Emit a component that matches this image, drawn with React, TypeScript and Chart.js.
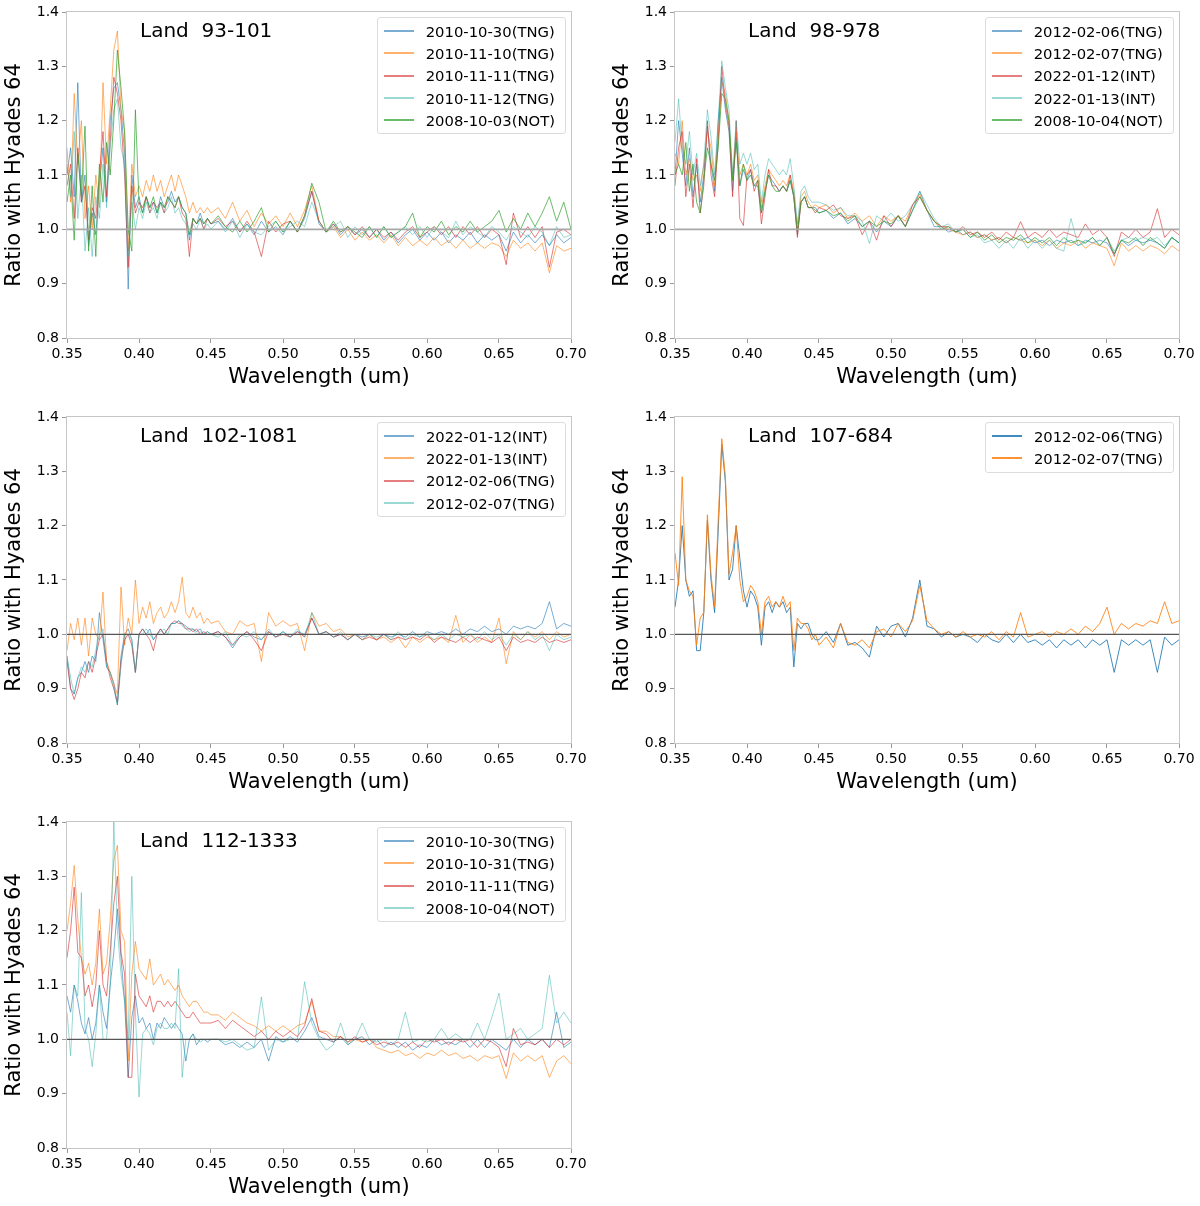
import { useEffect, useRef } from "react"
import { Chart, registerables } from "chart.js"

Chart.register(...registerables)

const FONT = "'DejaVu Sans', Verdana, sans-serif"

// Axis ranges and the reference ratio
const X_MIN = 0.35
const X_MAX = 0.7
const X_STEP = 0.05
const Y_MIN = 0.8
const Y_MAX = 1.4
const Y_STEP = 0.1
const REF_LEVEL = 1.0

// Shared wavelength grid (um), finer in the blue part
const WAVELENGTH = [
  0.35, 0.3525, 0.355, 0.3575, 0.36, 0.3625, 0.365, 0.3675, 0.37, 0.3725,
  0.375, 0.3775, 0.38, 0.3825, 0.385, 0.3875, 0.39, 0.3925, 0.395, 0.3975,
  0.4, 0.4025, 0.405, 0.4075, 0.41, 0.4125, 0.415, 0.4175, 0.42, 0.4225,
  0.425, 0.4275, 0.43, 0.4325, 0.435, 0.4375, 0.44, 0.4425, 0.445, 0.4475, 0.45,
  0.455, 0.46, 0.465, 0.47, 0.475, 0.48, 0.485, 0.49, 0.495, 0.5,
  0.505, 0.51, 0.515, 0.52, 0.525, 0.53, 0.535, 0.54, 0.545, 0.55,
  0.555, 0.56, 0.565, 0.57, 0.575, 0.58, 0.585, 0.59, 0.595, 0.6,
  0.605, 0.61, 0.615, 0.62, 0.625, 0.63, 0.635, 0.64, 0.645, 0.65,
  0.655, 0.66, 0.665, 0.67, 0.675, 0.68, 0.685, 0.69, 0.695, 0.7,
]

// Land 93-101
const P1_BLUE = [
  1.10, 1.15, 1.06, 1.27, 1.05, 1.10, 0.97, 1.03, 0.99, 1.08,
  1.15, 1.05, 1.20, 1.26, 1.27, 1.22, 1.14, 0.89, 1.10, 1.04,
  1.06, 1.03, 1.06, 1.04, 1.05, 1.03, 1.06, 1.04, 1.05, 1.07,
  1.05, 1.06, 1.04, 1.03, 0.98, 1.02, 1.01, 1.03, 1.01, 1.02, 1.01,
  1.015, 1.00, 1.02, 0.995, 1.01, 0.99, 1.015, 0.995, 1.005, 0.99,
  1.015, 0.995, 1.02, 1.07, 1.01, 0.995, 1.01, 0.99, 1.005, 0.99,
  1.00, 0.985, 1.00, 0.98, 0.995, 0.975, 0.99, 1.00, 0.98, 0.995,
  0.98, 0.995, 0.975, 0.99, 0.98, 0.995, 0.975, 0.99, 0.98, 0.99,
  0.96, 0.995, 0.975, 0.99, 0.975, 0.99, 0.97, 0.99, 0.975, 0.985,
]
const P1_ORANGE = [
  1.15, 1.05, 1.25, 1.12, 1.20, 1.02, 1.08, 1.00, 1.10, 1.04,
  1.27, 1.12, 1.22, 1.33, 1.365, 1.22, 1.18, 0.96, 1.12, 1.06,
  1.08, 1.06, 1.09, 1.07, 1.10, 1.07, 1.09, 1.06, 1.08, 1.10,
  1.07, 1.10, 1.08, 1.06, 1.03, 1.05, 1.03, 1.04, 1.03, 1.04, 1.03,
  1.04, 1.02, 1.05, 1.015, 1.035, 1.005, 1.03, 1.01, 1.025, 1.005,
  1.03, 1.005, 1.035, 1.08, 1.015, 0.995, 1.005, 0.985, 1.00, 0.98,
  0.995, 0.98, 0.99, 0.975, 0.99, 0.97, 0.985, 0.97, 0.98, 0.97,
  0.985, 0.97, 0.98, 0.965, 0.98, 0.965, 0.975, 0.965, 0.975, 0.97,
  0.95, 0.98, 0.965, 0.975, 0.96, 0.975, 0.92, 0.97, 0.96, 0.965,
]
const P1_RED = [
  1.08, 1.12, 1.02, 1.15, 1.05, 1.08, 0.98, 1.04, 1.02, 1.10,
  1.18, 1.06, 1.16, 1.28, 1.25, 1.20, 1.10, 0.93, 1.08, 1.03,
  1.05, 1.04, 1.06, 1.03, 1.05, 1.04, 1.05, 1.03, 1.06, 1.05,
  1.04, 1.06, 1.03, 1.02, 0.95, 1.02, 1.01, 1.02, 1.00, 1.02, 1.01,
  1.02, 1.005, 1.015, 0.995, 1.015, 0.995, 0.95, 1.015, 0.995, 1.01,
  1.015, 0.995, 1.025, 1.07, 1.015, 0.995, 1.01, 0.995, 1.005, 0.99,
  1.005, 0.985, 1.00, 0.985, 0.995, 0.98, 0.995, 1.005, 0.985, 0.995,
  1.005, 0.99, 1.005, 0.985, 1.005, 0.99, 1.005, 0.985, 1.00, 0.99,
  0.935, 1.03, 0.985, 1.005, 0.985, 1.005, 0.93, 0.995, 1.00, 0.99,
]
const P1_TEAL = [
  1.12, 1.06, 1.18, 1.02, 1.10, 0.96, 1.04, 0.95, 1.06, 1.02,
  1.12, 1.04, 1.15, 1.22, 1.24, 1.15, 1.12, 0.95, 1.05, 1.00,
  1.04, 1.02, 1.05, 1.03, 1.04, 1.02, 1.05, 1.03, 1.04, 1.06,
  1.03, 1.04, 1.02, 1.01, 0.99, 1.01, 1.00, 1.02, 1.00, 1.01, 1.00,
  1.015, 0.995, 1.015, 0.985, 1.01, 0.995, 0.99, 1.005, 1.015, 0.995,
  1.005, 1.015, 1.005, 1.05, 1.015, 0.995, 1.005, 1.015, 0.985, 1.005,
  0.99, 1.005, 0.985, 1.005, 0.985, 0.995, 1.005, 0.99, 1.005, 0.985,
  1.005, 0.995, 0.985, 1.015, 0.99, 1.005, 0.995, 0.985, 1.005, 0.995,
  0.98, 1.005, 0.995, 0.985, 1.005, 0.995, 0.97, 1.005, 0.985, 0.99,
]
const P1_GREEN = [
  1.05, 1.10, 0.98, 1.14, 1.06, 1.19, 0.96, 1.08, 0.95, 1.12,
  1.05, 1.16, 1.10, 1.20, 1.33, 1.26, 1.18, 1.00, 0.96, 1.22,
  1.05, 1.03, 1.06, 1.04, 1.06, 1.03, 1.05, 1.04, 1.06, 1.05,
  1.04, 1.06, 1.04, 1.03, 0.99, 1.02, 1.01, 1.02, 1.01, 1.02, 1.01,
  1.025, 1.005, 0.995, 1.015, 0.995, 1.015, 1.04, 0.995, 1.015, 0.995,
  1.015, 0.995, 1.025, 1.085, 1.05, 0.995, 1.015, 0.995, 1.005, 0.995,
  0.985, 1.005, 0.985, 1.005, 0.985, 0.995, 1.005, 1.03, 0.985, 1.005,
  0.995, 1.015, 0.99, 1.005, 0.995, 1.015, 0.995, 1.005, 1.015, 1.035,
  0.995, 1.02, 1.00, 1.03, 1.005, 1.03, 1.06, 1.015, 1.05, 1.00,
]

// Land 98-978
const P2_BLUE = [
  1.10, 1.20, 1.14, 1.08, 1.15, 1.06, 1.12, 1.05, 1.10, 1.19,
  1.12, 1.07, 1.20, 1.28, 1.22, 1.18, 1.07, 1.17, 1.08, 1.11,
  1.09, 1.11, 1.08, 1.08, 1.03, 1.07, 1.10, 1.09, 1.08, 1.07,
  1.08, 1.07, 1.09, 1.06, 0.99, 1.05, 1.06, 1.04, 1.04, 1.04, 1.03,
  1.035, 1.02, 1.03, 1.01, 1.02, 1.005, 1.015, 0.995, 1.015, 1.005,
  1.025, 1.005, 1.035, 1.07, 1.035, 1.005, 1.005, 0.995, 1.00, 0.99,
  0.995, 0.985, 0.99, 0.98, 0.985, 0.975, 0.985, 0.98, 0.985, 0.975,
  0.98, 0.97, 0.98, 0.975, 0.98, 0.97, 0.98, 0.975, 0.98, 0.975,
  0.955, 0.98, 0.97, 0.98, 0.975, 0.98, 0.975, 0.965, 0.985, 0.975,
]
const P2_ORANGE = [
  1.14, 1.12, 1.20, 1.10, 1.13, 1.09, 1.10, 1.07, 1.12, 1.18,
  1.15, 1.08, 1.17, 1.27, 1.25, 1.20, 1.09, 1.18, 1.10, 1.12,
  1.10, 1.12, 1.09, 1.10, 1.04, 1.08, 1.11, 1.10, 1.09, 1.08,
  1.09, 1.08, 1.10, 1.07, 1.00, 1.06, 1.07, 1.05, 1.04, 1.045, 1.04,
  1.045, 1.03, 1.04, 1.02, 1.03, 1.015, 1.025, 1.005, 1.025, 1.015,
  1.025, 1.015, 1.045, 1.065, 1.035, 1.015, 1.005, 1.00, 0.995, 0.99,
  0.995, 0.985, 0.99, 0.98, 0.985, 0.975, 0.985, 0.98, 0.975, 0.98,
  0.97, 0.98, 0.965, 0.975, 0.97, 0.98, 0.965, 0.975, 0.97, 0.965,
  0.933, 0.975, 0.96, 0.97, 0.96, 0.97, 0.965, 0.955, 0.97, 0.96,
]
const P2_RED = [
  1.08, 1.15, 1.18, 1.06, 1.12, 1.04, 1.13, 1.03, 1.08, 1.20,
  1.10, 1.06, 1.16, 1.30, 1.23, 1.19, 1.06, 1.20, 1.02, 1.007,
  1.10, 1.11, 1.07, 1.09, 1.01, 1.06, 1.11, 1.08, 1.08, 1.07,
  1.08, 1.07, 1.10, 1.06, 0.985, 1.05, 1.06, 1.04, 1.04, 1.03, 1.04,
  1.035, 1.045, 1.025, 1.02, 1.025, 0.99, 1.015, 0.98, 1.025, 1.005,
  1.025, 1.005, 1.045, 1.06, 1.035, 1.015, 1.005, 1.005, 0.995, 1.005,
  0.99, 0.995, 0.985, 0.995, 0.98, 0.995, 0.985, 1.014, 0.985, 0.995,
  0.985, 1.00, 0.985, 0.995, 0.99, 0.985, 1.01, 0.99, 1.00, 0.985,
  0.95, 0.995, 0.985, 1.00, 0.985, 0.995, 1.038, 0.985, 1.00, 0.99,
]
const P2_TEAL = [
  1.16, 1.24, 1.15, 1.12, 1.18, 1.10, 1.14, 1.08, 1.12, 1.22,
  1.17, 1.10, 1.20, 1.31, 1.26, 1.22, 1.10, 1.20, 1.12, 1.14,
  1.12, 1.14, 1.11, 1.12, 1.05, 1.10, 1.13, 1.12, 1.11, 1.10,
  1.11, 1.10, 1.13, 1.08, 1.01, 1.07, 1.08, 1.06, 1.05, 1.05, 1.05,
  1.045, 1.035, 1.04, 1.025, 1.025, 1.015, 0.974, 1.025, 1.015, 1.03,
  1.015, 1.025, 1.045, 1.07, 1.045, 1.02, 1.005, 1.01, 0.995, 1.00,
  0.985, 0.99, 0.975, 0.98, 0.965, 0.98, 0.965, 0.985, 0.965, 0.98,
  0.965, 0.98, 0.965, 0.96, 1.02, 0.97, 0.975, 0.985, 0.97, 0.985,
  0.96, 0.98, 0.985, 0.98, 0.985, 0.98, 0.985, 0.97, 0.985, 0.975,
]
const P2_GREEN = [
  1.10, 1.12, 1.10, 1.16, 1.07, 1.12, 1.05, 1.03, 1.09, 1.15,
  1.12, 1.09, 1.15, 1.25, 1.24, 1.20, 1.09, 1.16, 1.08, 1.12,
  1.09, 1.10, 1.08, 1.09, 1.03, 1.07, 1.10, 1.08, 1.07, 1.07,
  1.08, 1.07, 1.09, 1.06, 0.995, 1.05, 1.06, 1.04, 1.04, 1.035, 1.03,
  1.035, 1.025, 1.03, 1.015, 1.025, 1.005, 1.015, 1.005, 1.015, 1.01,
  1.025, 1.005, 1.035, 1.06, 1.035, 1.015, 1.00, 1.005, 0.995, 1.00,
  0.985, 0.995, 0.98, 0.99, 0.975, 0.985, 0.98, 0.99, 0.975, 0.985,
  0.975, 0.985, 0.97, 0.985, 0.975, 0.98, 0.975, 0.985, 0.97, 0.985,
  0.955, 0.98, 0.975, 0.985, 0.97, 0.985, 0.975, 0.965, 0.985, 0.975,
]

// Land 102-1081
const P3_BLUE = [
  0.96, 0.90, 0.89, 0.92, 0.93, 0.95, 0.93, 0.96, 0.95, 1.04,
  0.99, 0.94, 0.93, 0.91, 0.87, 0.96, 1.00, 1.01, 0.99, 0.93,
  1.00, 1.01, 1.00, 1.01, 0.99, 1.00, 1.01, 1.00, 1.01, 1.02,
  1.02, 1.025, 1.02, 1.015, 1.01, 1.01, 1.005, 1.01, 1.00, 1.005, 1.00,
  1.005, 0.995, 0.975, 0.995, 1.005, 0.995, 0.99, 1.005, 0.995, 1.005,
  0.995, 1.005, 1.00, 1.03, 1.00, 1.005, 0.995, 1.00, 0.99, 1.00,
  0.995, 1.00, 0.99, 1.00, 0.995, 1.00, 0.995, 1.005, 0.995, 1.005,
  1.00, 1.005, 1.00, 1.01, 1.00, 1.01, 1.005, 1.015, 1.005, 1.01,
  1.00, 1.015, 1.01, 1.015, 1.01, 1.02, 1.06, 1.01, 1.02, 1.015,
]
const P3_ORANGE = [
  0.97, 1.02, 0.99, 1.03, 0.98, 1.03, 0.96, 1.03, 1.00, 0.99,
  1.078, 0.95, 0.93, 0.91, 0.89, 1.087, 0.98, 1.03, 1.00, 1.10,
  1.02, 1.05, 1.03, 1.06, 1.02, 1.04, 1.05, 1.03, 1.04, 1.06,
  1.04, 1.06, 1.105, 1.04, 1.03, 1.05, 1.03, 1.04, 1.02, 1.03, 1.02,
  1.025, 1.005, 1.00, 1.025, 1.015, 1.02, 0.95, 1.04, 1.015, 1.025,
  1.015, 1.02, 0.97, 1.04, 1.015, 1.02, 1.005, 1.01, 0.995, 1.00,
  0.99, 1.00, 0.99, 0.995, 0.985, 0.995, 0.975, 0.995, 0.985, 0.995,
  0.99, 0.995, 0.985, 1.035, 0.985, 1.00, 0.985, 0.995, 0.985, 1.03,
  0.946, 1.005, 0.99, 1.005, 0.995, 1.005, 0.99, 1.005, 0.995, 1.00,
]
const P3_RED = [
  0.95, 0.90, 0.88, 0.90, 0.93, 0.92, 0.95, 0.93, 0.96, 0.99,
  1.00, 0.95, 0.92, 0.90, 0.875, 0.95, 0.99, 1.00, 0.98, 0.93,
  1.00, 1.01, 1.00, 0.99, 0.97, 1.00, 1.01, 1.00, 1.01, 1.02,
  1.025, 1.02, 1.02, 1.01, 1.01, 1.005, 1.01, 1.00, 1.005, 1.00, 1.00,
  1.005, 0.995, 0.98, 0.995, 1.005, 0.99, 0.97, 1.005, 0.995, 1.00,
  0.995, 1.005, 0.995, 1.03, 1.00, 1.005, 0.995, 1.00, 0.99, 1.00,
  0.99, 0.995, 0.99, 1.00, 0.99, 0.995, 0.99, 0.995, 0.99, 1.00,
  0.985, 0.995, 0.99, 0.985, 0.995, 0.985, 0.995, 0.99, 0.985, 0.995,
  0.97, 0.995, 0.985, 0.99, 0.985, 0.995, 0.985, 0.99, 0.985, 0.99,
]
const P3_TEAL = [
  0.96, 0.92, 0.89, 0.92, 0.94, 0.93, 0.95, 0.94, 0.97, 1.00,
  1.01, 0.94, 0.93, 0.90, 0.87, 0.94, 1.00, 1.00, 0.99, 0.93,
  1.00, 1.00, 1.01, 1.00, 0.99, 1.00, 1.005, 1.01, 1.00, 1.02,
  1.02, 1.025, 1.015, 1.01, 1.005, 1.01, 1.00, 1.005, 1.00, 1.005, 1.00,
  0.995, 1.005, 0.98, 1.00, 0.995, 1.005, 0.99, 1.01, 0.995, 1.005,
  0.995, 1.01, 0.995, 1.04, 1.00, 1.005, 0.995, 1.005, 0.99, 1.00,
  0.99, 1.00, 0.995, 1.00, 0.99, 1.005, 0.99, 1.00, 0.995, 1.00,
  0.99, 1.00, 0.99, 1.00, 0.995, 1.00, 0.99, 1.005, 0.99, 1.00,
  0.98, 1.00, 0.99, 1.005, 0.99, 1.00, 0.97, 1.00, 0.99, 0.995,
]

// Land 107-684
const P4_BLUE = [
  1.05, 1.10, 1.20, 1.10, 1.07, 1.08, 0.97, 0.97, 1.04, 1.21,
  1.10, 1.04, 1.19, 1.35, 1.28, 1.10, 1.12, 1.20, 1.14, 1.08,
  1.05, 1.08, 1.07, 1.05, 0.98, 1.05, 1.06, 1.04, 1.06, 1.05,
  1.06, 1.04, 1.05, 0.94, 1.02, 1.01, 1.02, 1.02, 1.00, 0.99, 0.99,
  1.005, 0.985, 1.02, 0.98, 0.985, 0.975, 0.958, 1.015, 0.995, 1.015,
  1.02, 0.995, 1.03, 1.10, 1.015, 1.01, 0.995, 1.005, 0.995, 1.00,
  0.995, 0.985, 1.00, 0.99, 0.985, 1.00, 0.985, 1.00, 0.985, 0.99,
  0.98, 0.99, 0.975, 0.99, 0.98, 0.99, 0.975, 0.99, 0.98, 0.99,
  0.93, 0.99, 0.98, 0.99, 0.98, 0.99, 0.93, 0.995, 0.98, 0.99,
]
const P4_ORANGE = [
  1.15, 1.09, 1.29, 1.10, 1.08, 1.07, 0.98, 1.03, 1.04, 1.22,
  1.11, 1.05, 1.21, 1.36, 1.29, 1.11, 1.15, 1.20, 1.10, 1.06,
  1.07, 1.09, 1.08, 1.06, 1.00, 1.06, 1.07, 1.05, 1.06, 1.05,
  1.07, 1.05, 1.06, 0.97, 1.03, 1.02, 1.02, 1.01, 0.99, 1.00, 0.98,
  0.995, 0.975, 1.02, 0.985, 0.98, 0.99, 0.975, 1.005, 1.01, 0.995,
  1.02, 1.005, 1.025, 1.09, 1.025, 1.01, 1.00, 1.005, 0.995, 1.005,
  0.995, 1.00, 0.995, 1.005, 0.99, 1.005, 0.995, 1.04, 0.995, 1.00,
  1.005, 0.995, 1.005, 1.00, 1.01, 1.00, 1.015, 1.005, 1.02, 1.05,
  1.00, 1.02, 1.01, 1.02, 1.015, 1.025, 1.02, 1.06, 1.02, 1.025,
]

// Land 112-1333
const P5_BLUE = [
  1.08, 1.05, 1.10, 1.07, 1.03, 1.01, 1.04, 1.00, 1.03, 1.10,
  1.05, 1.02, 1.10, 1.16, 1.24, 1.15, 1.07, 0.93, 1.04, 1.08,
  1.03, 1.04, 1.02, 1.03, 1.00, 1.03, 1.02, 1.04, 1.03, 1.02,
  1.03, 1.02, 1.01, 0.96, 1.00, 1.01, 0.99, 1.00, 1.00, 0.995, 1.00,
  1.00, 0.99, 0.995, 0.985, 0.995, 0.985, 1.00, 0.96, 1.005, 0.995,
  1.005, 0.995, 1.015, 1.04, 1.005, 1.00, 0.995, 1.005, 0.99, 1.00,
  1.005, 0.99, 1.00, 0.985, 0.995, 0.985, 0.995, 0.98, 0.99, 0.985,
  1.00, 0.99, 0.995, 0.99, 1.00, 0.985, 1.00, 0.985, 1.00, 0.99,
  0.98, 1.00, 0.985, 1.00, 0.99, 1.00, 0.985, 1.05, 0.985, 0.995,
]
const P5_ORANGE = [
  1.20, 1.25, 1.32, 1.22, 1.15, 1.12, 1.14, 1.10, 1.14, 1.24,
  1.12, 1.14, 1.22, 1.33, 1.357, 1.20, 1.18, 0.96, 1.12, 1.18,
  1.13, 1.12, 1.11, 1.148, 1.10, 1.11, 1.12, 1.10, 1.11, 1.10,
  1.09, 1.10, 1.08, 1.07, 1.06, 1.07, 1.07, 1.06, 1.05, 1.05, 1.045,
  1.045, 1.035, 1.05, 1.04, 1.03, 1.025, 1.015, 1.025, 1.015, 1.025,
  1.015, 1.025, 1.03, 1.07, 1.015, 1.015, 1.005, 1.005, 0.995, 1.00,
  0.995, 1.00, 0.985, 0.98, 0.975, 0.98, 0.97, 0.975, 0.965, 0.975,
  0.97, 0.98, 0.97, 0.975, 0.965, 0.97, 0.96, 0.97, 0.965, 0.97,
  0.928, 0.975, 0.96, 0.97, 0.96, 0.97, 0.93, 0.96, 0.97, 0.955,
]
const P5_RED = [
  1.15, 1.20, 1.28, 1.16, 1.15, 1.08, 1.10, 1.06, 1.10, 1.20,
  1.10, 1.08, 1.16, 1.25, 1.30, 1.16, 1.12, 0.93, 0.93, 1.12,
  1.08, 1.07, 1.06, 1.08, 1.05, 1.07, 1.07, 1.06, 1.07, 1.06,
  1.07, 1.06, 1.05, 1.04, 1.04, 1.05, 1.04, 1.03, 1.03, 1.03, 1.03,
  1.035, 1.02, 1.035, 1.025, 1.015, 1.005, 1.015, 1.00, 1.015, 1.005,
  1.015, 1.005, 1.025, 1.075, 1.015, 1.01, 0.995, 1.005, 0.995, 1.005,
  0.995, 1.00, 0.99, 0.995, 0.99, 0.995, 0.985, 0.995, 0.985, 1.00,
  0.995, 1.00, 0.99, 1.00, 0.995, 1.00, 0.985, 1.00, 0.995, 0.985,
  0.95, 1.02, 0.99, 0.995, 0.99, 1.00, 0.985, 1.00, 0.99, 1.00,
]
const P5_TEAL = [
  1.05, 0.97, 1.10, 1.08, 1.27, 1.02, 1.00, 0.95, 1.01, 1.10,
  1.00, 1.00, 1.10, 1.40, 1.20, 1.12, 1.07, 1.00, 1.30, 1.05,
  0.894, 1.01, 1.02, 1.01, 0.99, 1.02, 1.03, 1.02, 1.02, 1.03,
  1.02, 1.13, 0.93, 1.00, 1.00, 1.01, 1.00, 0.995, 1.00, 1.00, 1.00,
  1.00, 0.995, 1.00, 0.99, 0.98, 0.985, 1.078, 0.98, 1.00, 0.995,
  1.00, 1.00, 1.106, 1.03, 1.00, 0.98, 0.99, 1.03, 0.99, 1.00,
  1.03, 1.00, 0.995, 1.00, 0.99, 1.00, 1.05, 0.995, 1.00, 0.995,
  1.00, 1.02, 1.00, 1.01, 1.00, 1.00, 1.03, 1.00, 1.04, 1.085,
  1.00, 1.01, 1.02, 1.00, 1.01, 1.02, 1.118, 1.03, 1.05, 1.03,
]

const BLUE = "rgba(31, 119, 180, 0.6)"
const ORANGE = "rgba(255, 127, 14, 0.6)"
const RED = "rgba(214, 39, 40, 0.6)"
const TEAL = "rgba(32, 170, 160, 0.45)"
const GREEN = "rgba(44, 160, 44, 0.7)"
const BLUE_STRONG = "rgba(31, 119, 180, 0.85)"
const ORANGE_STRONG = "rgba(255, 127, 14, 0.85)"

type Series = { label: string; data: number[]; color: string }
type Panel = {
  title: string
  col: number
  row: number
  refColor: string
  refWidth: number
  series: Series[]
}

const PANELS: Panel[] = [
  {
    title: "Land  93-101",
    col: 0,
    row: 0,
    refColor: "#a8a8a8",
    refWidth: 1.8,
    series: [
      { label: "2010-10-30(TNG)", data: P1_BLUE, color: BLUE },
      { label: "2010-11-10(TNG)", data: P1_ORANGE, color: ORANGE },
      { label: "2010-11-11(TNG)", data: P1_RED, color: RED },
      { label: "2010-11-12(TNG)", data: P1_TEAL, color: TEAL },
      { label: "2008-10-03(NOT)", data: P1_GREEN, color: GREEN },
    ],
  },
  {
    title: "Land  98-978",
    col: 1,
    row: 0,
    refColor: "#a8a8a8",
    refWidth: 1.8,
    series: [
      { label: "2012-02-06(TNG)", data: P2_BLUE, color: BLUE },
      { label: "2012-02-07(TNG)", data: P2_ORANGE, color: ORANGE },
      { label: "2022-01-12(INT)", data: P2_RED, color: RED },
      { label: "2022-01-13(INT)", data: P2_TEAL, color: TEAL },
      { label: "2008-10-04(NOT)", data: P2_GREEN, color: GREEN },
    ],
  },
  {
    title: "Land  102-1081",
    col: 0,
    row: 1,
    refColor: "#555555",
    refWidth: 1.2,
    series: [
      { label: "2022-01-12(INT)", data: P3_BLUE, color: BLUE },
      { label: "2022-01-13(INT)", data: P3_ORANGE, color: ORANGE },
      { label: "2012-02-06(TNG)", data: P3_RED, color: RED },
      { label: "2012-02-07(TNG)", data: P3_TEAL, color: TEAL },
    ],
  },
  {
    title: "Land  107-684",
    col: 1,
    row: 1,
    refColor: "#555555",
    refWidth: 1.2,
    series: [
      { label: "2012-02-06(TNG)", data: P4_BLUE, color: BLUE_STRONG },
      { label: "2012-02-07(TNG)", data: P4_ORANGE, color: ORANGE_STRONG },
    ],
  },
  {
    title: "Land  112-1333",
    col: 0,
    row: 2,
    refColor: "#555555",
    refWidth: 1.2,
    series: [
      { label: "2010-10-30(TNG)", data: P5_BLUE, color: BLUE },
      { label: "2010-10-31(TNG)", data: P5_ORANGE, color: ORANGE },
      { label: "2010-11-11(TNG)", data: P5_RED, color: RED },
      { label: "2008-10-04(NOT)", data: P5_TEAL, color: TEAL },
    ],
  },
]

// horizontal line at ratio 1.0, placed through the y scale
const refLinePlugin = {
  id: "refLine",
  afterDatasetsDraw(chart: any, _args: any, opts: any) {
    const { ctx, chartArea } = chart
    const y = chart.scales.y.getPixelForValue(REF_LEVEL)
    ctx.save()
    ctx.strokeStyle = opts.color
    ctx.lineWidth = opts.width
    ctx.beginPath()
    ctx.moveTo(chartArea.left, y)
    ctx.lineTo(chartArea.right, y)
    ctx.stroke()
    ctx.restore()
  },
}

// light box around the plot area
const framePlugin = {
  id: "frame",
  afterDraw(chart: any) {
    const { ctx, chartArea } = chart
    ctx.save()
    ctx.strokeStyle = "#c6c6c6"
    ctx.lineWidth = 1
    ctx.strokeRect(
      Math.round(chartArea.left) - 0.5,
      Math.round(chartArea.top) - 0.5,
      Math.round(chartArea.right - chartArea.left) + 1,
      Math.round(chartArea.bottom - chartArea.top) + 1
    )
    ctx.restore()
  },
}

function SpectrumPanel({ panel }: { panel: Panel }) {
  const canvasRef = useRef<HTMLCanvasElement>(null)
  const chartInstance = useRef<Chart | null>(null)

  useEffect(() => {
    if (!canvasRef.current) return
    const ctx = canvasRef.current.getContext("2d")
    if (!ctx) return

    if (chartInstance.current) chartInstance.current.destroy()

    const n = panel.series.length
    const tickFont = { family: FONT, size: 14 }
    const titleFont = { family: FONT, size: 21 }

    chartInstance.current = new Chart(ctx, {
      type: "line",
      data: {
        datasets: panel.series.map((s, i) => ({
          label: s.label,
          data: WAVELENGTH.map((x, j) => ({ x, y: s.data[j] })),
          borderColor: s.color,
          backgroundColor: s.color,
          borderWidth: 1,
          pointRadius: 0,
          tension: 0,
          fill: false,
          order: n - i,
        })),
      },
      options: {
        responsive: false,
        animation: false,
        events: [],
        layout: { padding: { left: 0, right: 29, top: 12, bottom: 4 } },
        plugins: {
          legend: { display: false },
          tooltip: { enabled: false },
          refLine: { color: panel.refColor, width: panel.refWidth },
        } as any,
        scales: {
          x: {
            type: "linear",
            min: X_MIN,
            max: X_MAX,
            afterFit: (scale: any) => {
              scale.height = 52
            },
            grid: { display: true, drawOnChartArea: false, drawTicks: true, tickLength: 5, color: "#999999" },
            border: { display: false },
            ticks: {
              stepSize: X_STEP,
              autoSkip: false,
              maxRotation: 0,
              padding: 3,
              color: "#000000",
              font: tickFont,
              callback: (v: any) => Number(v).toFixed(2),
            },
            title: {
              display: true,
              text: "Wavelength (um)",
              color: "#000000",
              font: titleFont,
              padding: { top: 0, bottom: 0 },
            },
          },
          y: {
            type: "linear",
            min: Y_MIN,
            max: Y_MAX,
            afterFit: (scale: any) => {
              scale.width = 67
            },
            grid: { display: true, drawOnChartArea: false, drawTicks: true, tickLength: 5, color: "#999999" },
            border: { display: false },
            ticks: {
              stepSize: Y_STEP,
              autoSkip: false,
              padding: 3,
              color: "#000000",
              font: tickFont,
              callback: (v: any) => Number(v).toFixed(1),
            },
            title: {
              display: true,
              text: "Ratio with Hyades 64",
              color: "#000000",
              font: titleFont,
              padding: { top: 2, bottom: 0 },
            },
          },
        },
      },
      plugins: [refLinePlugin, framePlugin],
    } as any)

    return () => {
      if (chartInstance.current) {
        chartInstance.current.destroy()
        chartInstance.current = null
      }
    }
  }, [panel])

  return (
    <div
      style={{
        position: "absolute",
        left: panel.col * 608,
        top: panel.row * 405,
        width: 600,
        height: 394,
      }}
    >
      <canvas ref={canvasRef} width={600} height={394} style={{ position: "absolute", left: 0, top: 0 }} />
      <div
        style={{
          position: "absolute",
          left: 140,
          top: 20,
          fontFamily: FONT,
          fontSize: 20,
          lineHeight: "20px",
          color: "#000",
          whiteSpace: "pre",
        }}
      >
        {panel.title}
      </div>
      <div
        style={{
          position: "absolute",
          right: 34,
          top: 17,
          border: "1px solid #dcdcdc",
          borderRadius: 3,
          background: "rgba(255,255,255,0.85)",
          padding: "2px 10px 2px 6px",
          fontFamily: FONT,
          fontSize: 14.8,
          color: "#000",
        }}
      >
        {panel.series.map((s) => (
          <div key={s.label} style={{ display: "flex", alignItems: "center", height: 22.3 }}>
            <span
              style={{
                display: "inline-block",
                flex: "0 0 30px",
                width: 30,
                height: 2,
                background: s.color,
                marginRight: 12,
              }}
            />
            <span style={{ whiteSpace: "nowrap" }}>{s.label}</span>
          </div>
        ))}
      </div>
    </div>
  )
}

export default function App() {
  return (
    <div
      style={{
        position: "absolute",
        left: 0,
        top: 0,
        width: 1200,
        height: 1206,
        overflow: "hidden",
        background: "#ffffff",
      }}
    >
      {PANELS.map((p) => (
        <SpectrumPanel key={p.title} panel={p} />
      ))}
    </div>
  )
}
